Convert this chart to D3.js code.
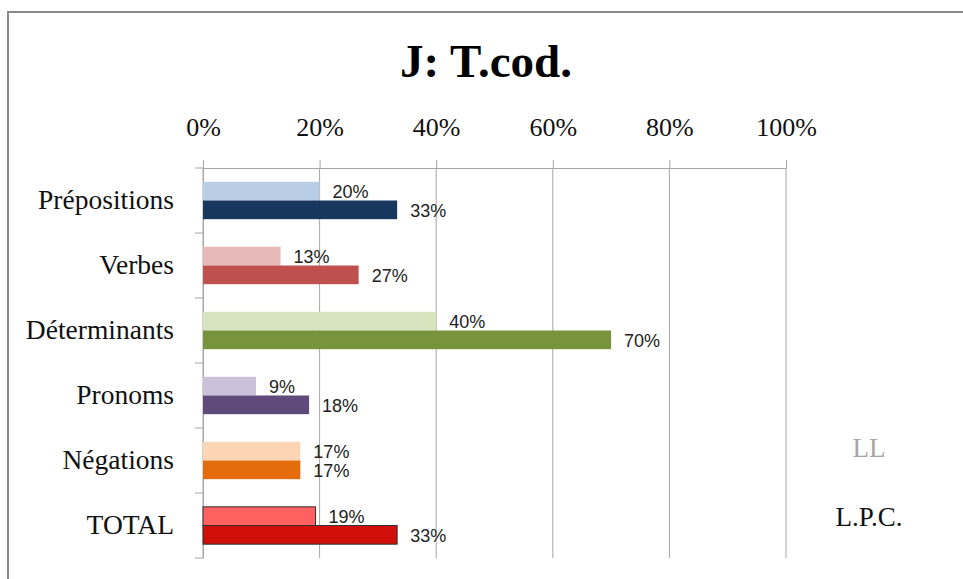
<!DOCTYPE html>
<html>
<head>
  <style>
    body { margin: 0; background: white; }
  </style>
</head>
<body>
  <div id="chart"></div>

  <script src="https://cdnjs.cloudflare.com/ajax/libs/d3/7.8.5/d3.min.js"></script>
  <script>
    // Données
    const categories = ["Prépositions", "Verbes", "Déterminants", "Pronoms", "Négations", "TOTAL"];
    const seriesNames = ["LL", "L.P.C."];
    const llValues = [0.20, 0.133, 0.40, 0.091, 0.167, 0.193];
    const lpcValues = [0.333, 0.267, 0.70, 0.182, 0.167, 0.333];
    const llColors = ["#b9cde5", "#e6b9b8", "#d7e4bd", "#ccc1da", "#fcd5b5", "#ff6161"];
    const lpcColors = ["#17375e", "#c0504d", "#77933c", "#604a7b", "#e46c0a", "#d00f0b"];
    const xTicks = [0, 0.2, 0.4, 0.6, 0.8, 1.0];

    const width = 963, height = 579;
    const plot = { left: 203, right: 786, top: 168, bottom: 558 };
    const serif = '"Liberation Serif", "Times New Roman", serif';
    const sans = '"Liberation Sans", Arial, sans-serif';

    const svg = d3.select("#chart").append("svg")
      .attr("width", width)
      .attr("height", height);

    svg.append("rect").attr("width", width).attr("height", height).attr("fill", "white");

    // cadre du graphique
    svg.append("rect")
      .attr("x", 8).attr("y", 12)
      .attr("width", 1000).attr("height", 1000)
      .attr("fill", "none")
      .attr("stroke", "#8a8a8a")
      .attr("stroke-width", 2);

    // Titre
    svg.append("text")
      .attr("x", 486).attr("y", 77)
      .attr("text-anchor", "middle")
      .style("font-family", serif)
      .style("font-size", "47px")
      .style("font-weight", "bold")
      .text("J: T.cod.");

    // Echelles
    const x = d3.scaleLinear().domain([0, 1]).range([plot.left, plot.right]);
    const y = d3.scaleBand().domain(categories).range([plot.top, plot.bottom]).padding(0);
    const ys = d3.scaleBand().domain(seriesNames).range([0, y.bandwidth()])
      .paddingInner(0).paddingOuter(0.74);

    // Grille verticale
    svg.append("g").selectAll("line")
      .data(xTicks)
      .join("line")
      .attr("x1", d => x(d)).attr("x2", d => x(d))
      .attr("y1", plot.top).attr("y2", plot.bottom)
      .attr("stroke", "#a6a6a6")
      .attr("stroke-width", 1);

    // Axe des valeurs (en haut)
    const xAxis = svg.append("g")
      .attr("transform", `translate(0,${plot.top})`)
      .call(d3.axisTop(x).tickValues(xTicks).tickFormat(d3.format(".0%"))
        .tickSize(8).tickPadding(24).tickSizeOuter(0));
    xAxis.select(".domain").attr("stroke", "#a6a6a6");
    xAxis.selectAll(".tick line").attr("stroke", "#a6a6a6");
    xAxis.selectAll(".tick text")
      .style("font-family", serif)
      .style("font-size", "26px")
      .attr("fill", "#111");

    // Axe des catégories
    const yAxis = svg.append("g")
      .attr("transform", `translate(${plot.left},0)`)
      .call(d3.axisLeft(y).tickSize(0).tickPadding(29));
    yAxis.select(".domain").attr("stroke", "#a6a6a6");
    yAxis.selectAll(".tick text")
      .style("font-family", serif)
      .style("font-size", "27.5px")
      .attr("fill", "#111");

    const bounds = categories.map(c => y(c)).concat([y(categories[categories.length - 1]) + y.bandwidth()]);
    svg.append("g").selectAll("line")
      .data(bounds)
      .join("line")
      .attr("x1", plot.left - 8).attr("x2", plot.left)
      .attr("y1", d => d).attr("y2", d => d)
      .attr("stroke", "#a6a6a6");

    // Barres
    const rows = categories.map((c, i) => [
      { cat: c, serie: "LL", value: llValues[i], color: llColors[i] },
      { cat: c, serie: "L.P.C.", value: lpcValues[i], color: lpcColors[i] }
    ]).flat();

    svg.append("g").selectAll("rect")
      .data(rows)
      .join("rect")
      .attr("x", x(0))
      .attr("y", d => y(d.cat) + ys(d.serie))
      .attr("width", d => x(d.value) - x(0))
      .attr("height", ys.bandwidth())
      .attr("fill", d => d.color)
      .attr("stroke", d => d.cat === "TOTAL" ? "#333" : "none")
      .attr("stroke-width", 1);

    // Etiquettes de données
    svg.append("g").selectAll("text")
      .data(rows)
      .join("text")
      .attr("x", d => x(d.value) + 13)
      .attr("y", d => y(d.cat) + ys(d.serie) + ys.bandwidth() / 2 + 7)
      .style("font-family", sans)
      .style("font-size", "18px")
      .attr("fill", "#222")
      .text(d => d3.format(".0%")(d.value));

    // Légende
    const legendColors = ["#a6a6a6", "#111"];
    svg.append("g").selectAll("text")
      .data(seriesNames)
      .join("text")
      .attr("x", 869)
      .attr("y", (d, i) => 457 + i * 69)
      .attr("text-anchor", "middle")
      .style("font-family", serif)
      .style("font-size", "27px")
      .attr("fill", (d, i) => legendColors[i])
      .text(d => d);
  </script>
</body>
</html>
